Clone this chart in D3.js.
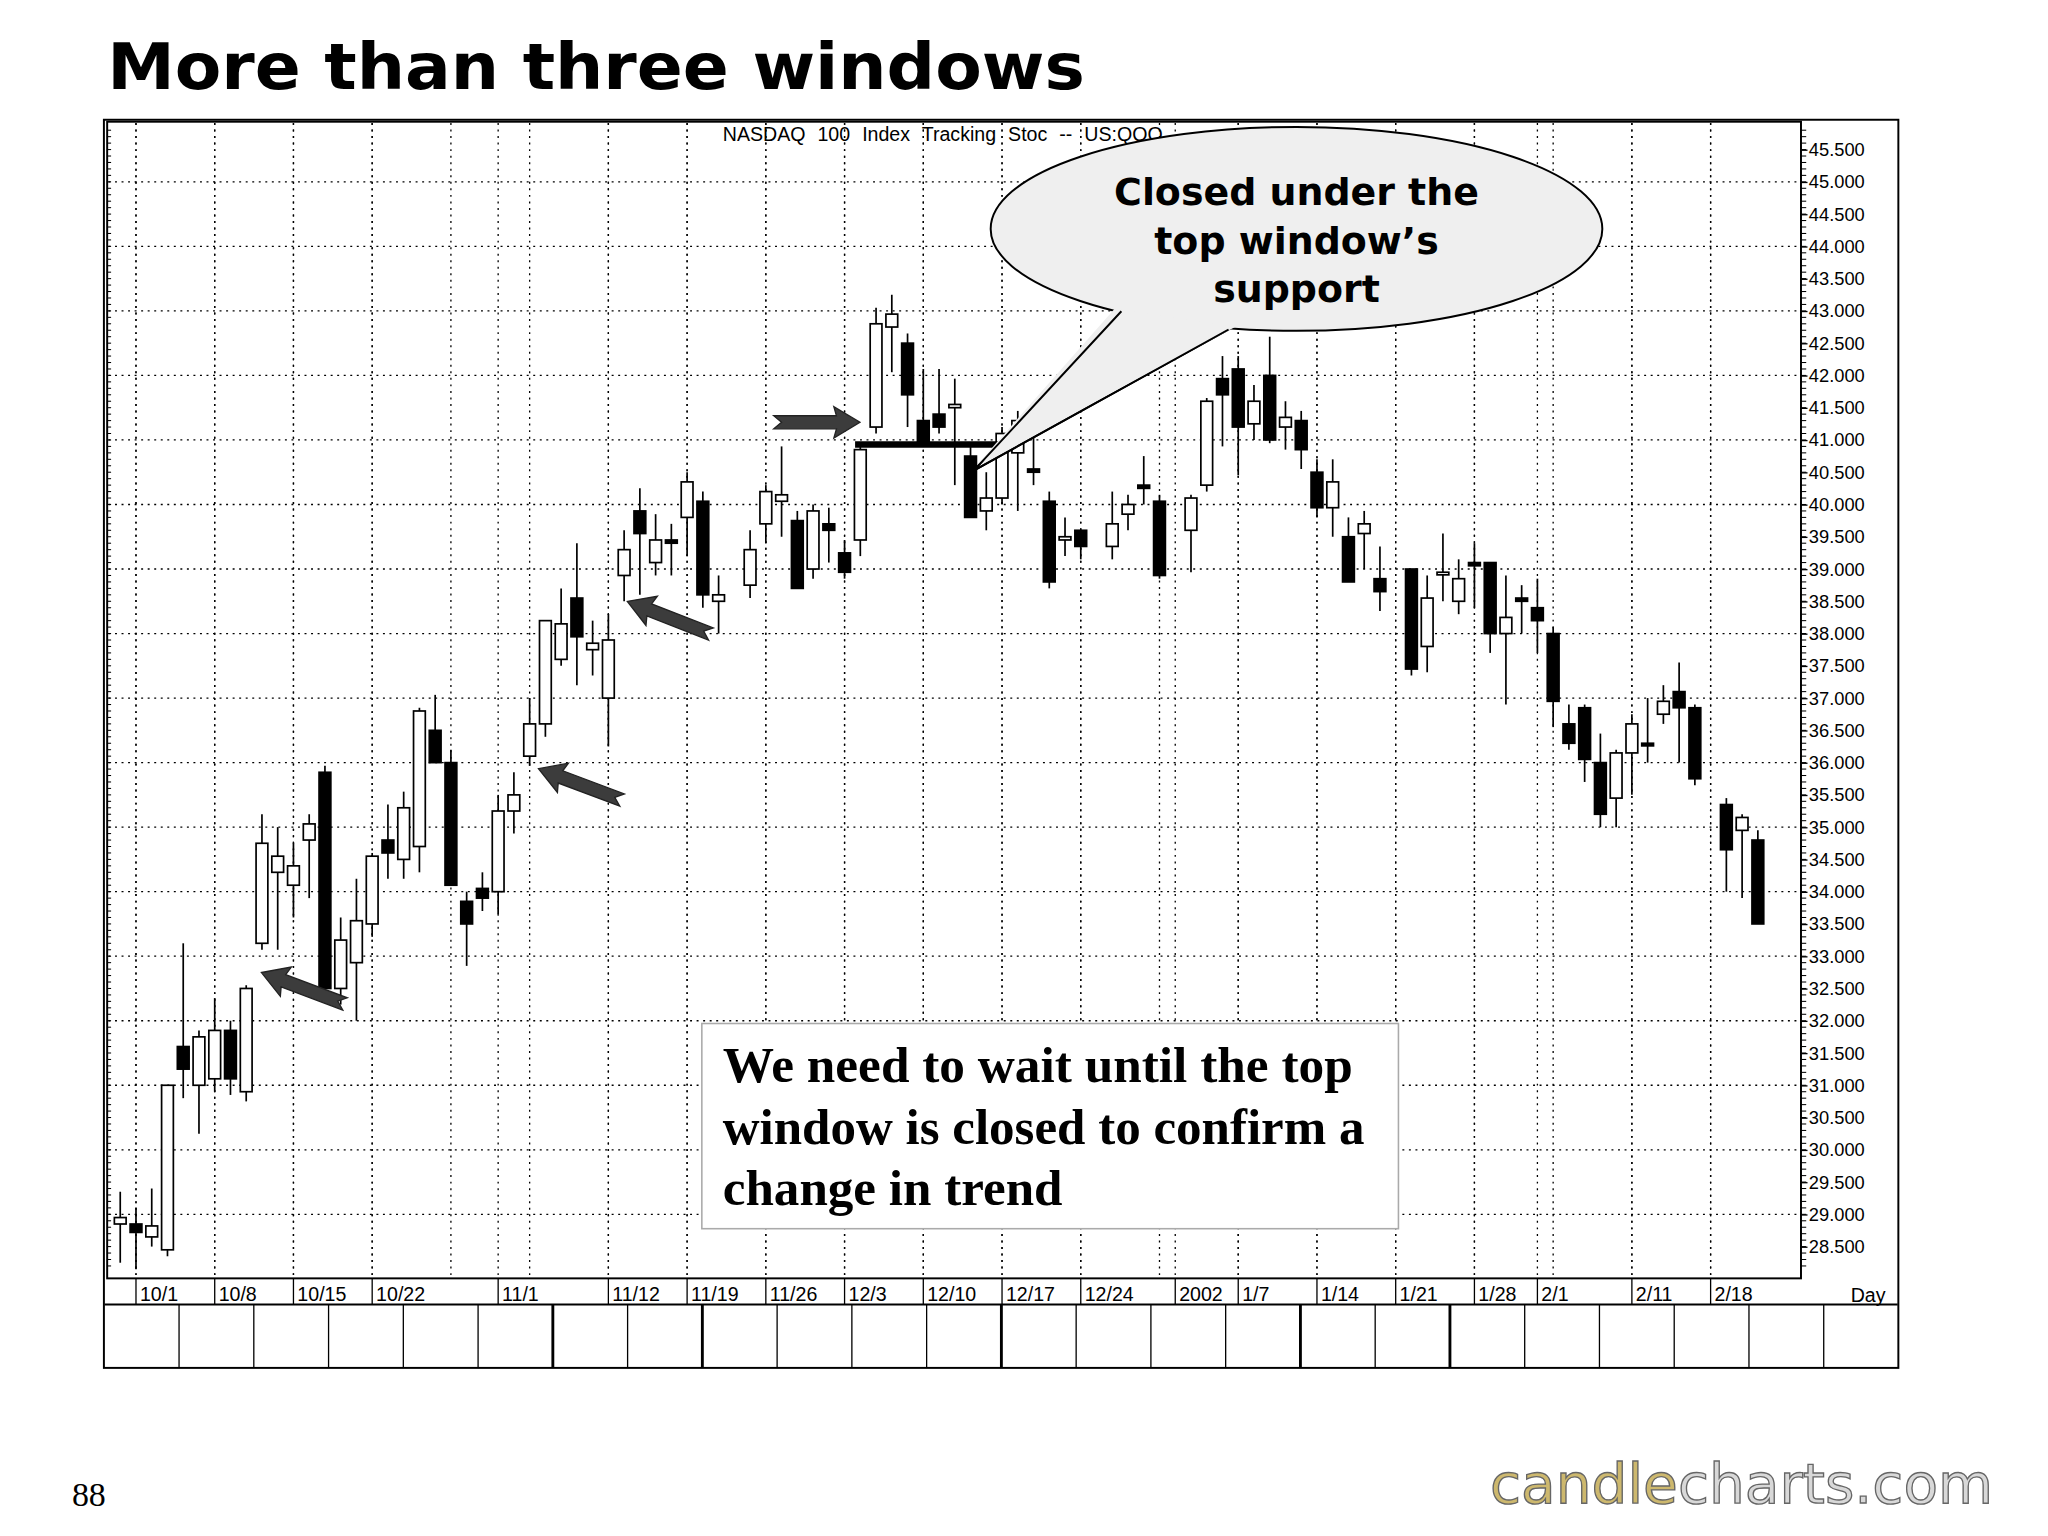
<!DOCTYPE html>
<html><head><meta charset="utf-8">
<script src="https://cdn.jsdelivr.net/npm/d3@7"></script>
<style>body{margin:0;background:#fff}</style>
</head><body>
<script>
// trading days 9/28/2001 .. 2/21/2002, holidays removed
var holidays = ["2001-11-22","2001-12-25","2002-01-01","2002-01-21","2002-02-18"];
var fmt = d3.timeFormat("%Y-%m-%d");
var days = d3.timeDay.range(new Date(2001,8,28), new Date(2002,1,22))
  .filter(function(d){ return d.getDay()>0 && d.getDay()<6; });
var weekdays = days.map(fmt);               // every weekday, for positions
var dates = weekdays.filter(function(d){ return holidays.indexOf(d)<0; });

var opens  = [28.85,28.85,28.65,28.45,31.6,31.0,31.1,31.85,30.9,33.2,34.3,34.1,34.8,35.85,32.5,32.9,33.5,34.8,34.5,34.7,36.5,36.0,33.85,34.05,34.0,35.25,36.1,36.6,37.6,38.55,37.75,37.0,38.9,39.9,39.1,39.45,39.8,40.05,38.5,38.75,39.7,40.05,39.75,39.0,39.7,39.25,39.45,41.2,42.75,42.5,41.3,41.4,41.5,40.75,39.9,40.1,40.8,40.55,40.05,39.45,39.6,39.35,39.85,40.3,40.05,39.6,40.3,41.95,42.1,41.25,42.0,41.2,41.3,40.5,39.95,39.5,39.55,38.85,39.0,37.8,38.95,38.5,39.1,39.1,38.0,38.55,38.4,38.0,36.6,36.85,36.0,35.45,36.15,36.3,36.75,37.1,36.85,35.35,34.95,34.8];
var highs  = [29.35,29.1,29.4,31.0,33.2,31.85,32.35,32.0,32.55,35.2,35.0,34.75,35.2,35.95,33.6,34.2,34.6,35.35,35.55,36.85,37.05,36.2,34.0,34.3,35.5,35.85,37.0,38.2,38.7,39.4,38.2,38.3,39.6,40.25,39.85,39.7,40.5,40.2,38.9,39.6,40.3,40.9,39.9,40.0,39.95,39.45,40.95,43.05,43.25,42.65,42.1,42.1,41.95,40.95,40.5,41.2,41.45,41.05,40.2,39.8,39.6,40.2,40.15,40.75,40.15,40.15,41.65,42.3,42.3,41.85,42.6,41.6,41.45,40.7,40.7,39.8,39.9,39.35,39.0,38.9,39.55,39.15,39.4,39.1,38.9,38.75,38.85,38.1,36.9,36.9,36.45,36.2,36.75,37.0,37.2,37.55,36.9,35.45,35.2,34.95];
var lows   = [28.25,28.15,28.5,28.35,30.8,30.25,30.9,30.85,30.75,33.1,33.1,33.6,33.9,32.3,32.25,32.0,33.3,34.2,34.2,34.3,36.0,34.1,32.85,33.7,33.65,34.9,35.95,36.4,37.5,37.2,37.35,36.25,38.5,38.6,38.9,38.9,39.2,38.4,38.0,38.55,39.4,39.5,38.7,38.85,39.1,38.85,39.2,41.1,42.05,41.2,40.9,41.1,40.3,39.8,39.6,40.0,39.9,40.3,38.7,39.2,39.15,39.15,39.6,40.0,38.85,38.95,40.2,40.9,40.45,41.0,40.95,40.85,40.55,39.8,39.5,38.8,39.0,38.35,37.35,37.4,38.5,38.3,38.4,37.7,36.9,38.0,37.7,36.55,36.2,35.7,35.0,35.0,35.5,36.0,36.6,36.0,35.65,34.0,33.9,33.5];
var closes = [28.95,28.72,28.82,31.0,31.25,31.75,31.85,31.1,32.5,34.75,34.55,34.4,35.05,32.5,33.25,33.55,34.55,34.6,35.3,36.8,36.0,34.1,33.5,33.9,35.25,35.5,36.6,38.2,38.15,37.95,37.85,37.9,39.3,39.55,39.45,39.4,40.35,38.6,38.6,39.3,40.2,40.15,38.7,39.9,39.6,38.95,40.85,42.8,42.95,41.7,40.95,41.2,41.55,39.8,40.1,41.1,41.3,40.5,38.8,39.5,39.35,39.7,40.0,40.25,38.9,40.1,41.6,41.7,41.2,41.6,41.0,41.35,40.85,39.95,40.35,38.8,39.7,38.65,37.45,38.55,38.95,38.85,39.05,38.0,38.25,38.5,38.2,36.95,36.3,36.05,35.2,36.15,36.6,36.28,36.95,36.85,35.75,34.65,35.15,33.5];

var dateLabels = [["2001-10-01","10/1"],["2001-10-08","10/8"],["2001-10-15","10/15"],["2001-10-22","10/22"],["2001-11-01","11/1"],["2001-11-12","11/12"],["2001-11-19","11/19"],["2001-11-26","11/26"],["2001-12-03","12/3"],["2001-12-10","12/10"],["2001-12-17","12/17"],["2001-12-24","12/24"],["2002-01-01","2002"],["2002-01-07","1/7"],["2002-01-14","1/14"],["2002-01-21","1/21"],["2002-01-28","1/28"],["2002-02-01","2/1"],["2002-02-11","2/11"],["2002-02-18","2/18"]];
var priceTicks = d3.range(28.5, 45.51, 0.5);
var bubbleLines = ["Closed under the","top window\u2019s","support"];
var noteLines = ["We need to wait until the top","window is closed to confirm a","change in trend"];
var noteWidths = [482, 491, 260];
var supportLevel = 40.93;

var svg = d3.select("body").append("svg")
  .attr("width",2048).attr("height",1536).attr("viewBox","0 0 1567 1175");

var x = d3.scaleLinear().domain([0, weekdays.length-1]).range([92, 1345]);
var xd = function(s){ return x(weekdays.indexOf(s)); };
var y = d3.scaleLinear().domain([29, 45]).range([929, 139]);

svg.append("text").attr("x",82).attr("y",68).attr("font-family","DejaVu Sans")
  .attr("font-weight","bold").attr("font-size",49).attr("textLength",748)
  .attr("lengthAdjust","spacingAndGlyphs").text("More than three windows");

// frame
svg.append("rect").attr("x",79.5).attr("y",91.5).attr("width",1373).attr("height",955)
  .attr("fill","#fff").attr("stroke","#000").attr("stroke-width",1.5);
var plot = svg.append("g");
plot.append("rect").attr("x",82).attr("y",93).attr("width",1296).attr("height",885)
  .attr("fill","none").attr("stroke","#000").attr("stroke-width",1.5);

// grid
var gridDays = weekdays.filter(function(d){ var t=new Date(d+"T00:00"); return t.getDay()==1; })
  .concat(dateLabels.map(function(d){return d[0];}));
plot.selectAll(".vg").data(gridDays).enter().append("line")
  .attr("x1",function(d){return xd(d);}).attr("x2",function(d){return xd(d);})
  .attr("y1",94).attr("y2",978).attr("stroke","#000").attr("stroke-width",1)
  .attr("stroke-dasharray","1.5,3.5");
plot.selectAll(".hg").data(d3.range(29,45.1,1)).enter().append("line")
  .attr("x1",83).attr("x2",1378).attr("y1",function(d){return y(d);}).attr("y2",function(d){return y(d);})
  .attr("stroke","#000").attr("stroke-width",1).attr("stroke-dasharray","1.5,3.5");

// right price axis
var axisR = d3.axisRight(y).tickValues(priceTicks).tickSize(5)
  .tickFormat(d3.format(".3f"));
var ag = svg.append("g").attr("transform","translate(1378,0)").call(axisR);
ag.select(".domain").remove();
ag.selectAll("text").attr("font-family","Liberation Sans Narrow, Liberation Sans").attr("font-size",14).attr("dx",-2);
svg.append("g").selectAll("line").data(d3.range(28.2,45.9,0.1)).enter().append("line")
  .attr("x1",1378).attr("x2",1382).attr("y1",function(d){return y(d);}).attr("y2",function(d){return y(d);})
  .attr("stroke","#000").attr("stroke-width",0.8);
svg.append("g").selectAll("line").data(d3.range(28.2,45.9,0.1)).enter().append("line")
  .attr("x1",82).attr("x2",85).attr("y1",function(d){return y(d);}).attr("y2",function(d){return y(d);})
  .attr("stroke","#000").attr("stroke-width",0.8);

svg.append("text").attr("x",553).attr("y",108).attr("font-family","Liberation Sans Narrow, Liberation Sans")
  .attr("font-size",15).attr("word-spacing",5).text("NASDAQ 100 Index Tracking Stoc -- US:QQQ");

// date axis row
var dg = svg.append("g");
dg.append("line").attr("x1",80).attr("x2",1452).attr("y1",998).attr("y2",998).attr("stroke","#000").attr("stroke-width",1.5);
dg.selectAll("line.t").data(dateLabels).enter().append("line")
  .attr("x1",function(d){return xd(d[0]);}).attr("x2",function(d){return xd(d[0]);})
  .attr("y1",978).attr("y2",998).attr("stroke","#000");
dg.selectAll("text").data(dateLabels).enter().append("text")
  .attr("x",function(d){return xd(d[0])+3;}).attr("y",995)
  .attr("font-family","Liberation Sans Narrow, Liberation Sans").attr("font-size",15).text(function(d){return d[1];});
dg.append("text").attr("x",1416).attr("y",996).attr("font-family","Liberation Sans Narrow, Liberation Sans").attr("font-size",15).text("Day");
// lower panel cells
var cells = d3.range(0,23);
var thick = [5,7,11,15,17];
dg.selectAll("line.c").data(cells).enter().append("line")
  .attr("x1",function(i){return 137+57.2*i;}).attr("x2",function(i){return 137+57.2*i;})
  .attr("y1",998).attr("y2",1046).attr("stroke","#000")
  .attr("stroke-width",function(i){return thick.indexOf(i)>=0?2.2:1;});

// candles
var data = dates.map(function(d,i){ return {d:d,o:opens[i],h:highs[i],l:lows[i],c:closes[i]}; });
var cg = plot.append("g");
var c = cg.selectAll("g").data(data).enter().append("g");
c.append("line").attr("x1",function(d){return xd(d.d);}).attr("x2",function(d){return xd(d.d);})
  .attr("y1",function(d){return y(d.h);}).attr("y2",function(d){return y(d.l);})
  .attr("stroke","#000").attr("stroke-width",1.3);
c.append("rect").attr("x",function(d){return xd(d.d)-4.5;}).attr("width",9)
  .attr("y",function(d){return y(Math.max(d.o,d.c));})
  .attr("height",function(d){return Math.max(2,Math.abs(y(d.o)-y(d.c)));})
  .attr("fill",function(d){return d.c>=d.o?"#fff":"#000";}).attr("stroke","#000").attr("stroke-width",1.3);

// support line
plot.append("line").attr("x1",xd("2001-12-04")-4).attr("x2",xd("2001-12-18")-8)
  .attr("y1",y(supportLevel)).attr("y2",y(supportLevel)).attr("stroke","#000").attr("stroke-width",5);

// block arrows
function arrow(tx,ty,fx,fy){
  var a=Math.atan2(ty-fy,tx-fx), L=Math.hypot(tx-fx,ty-fy);
  var p=[[0,-5],[L-18,-5],[L-20,-12],[L,0],[L-20,12],[L-18,5],[0,5],[6,0]];
  svg.append("path").attr("d","M"+p.map(function(q){return q.join(",");}).join("L")+"Z")
    .attr("transform","translate("+fx+","+fy+") rotate("+(a*180/Math.PI)+")")
    .attr("fill","#3c3c3c").attr("stroke","#222").attr("stroke-width",1);
}
arrow(200,744,264,768);
arrow(412,588,476,612);
arrow(480,460,544,485);
arrow(658,323,592,323);

// speech bubble
svg.append("path").attr("d","M858,238 L745,360 L940,252 Z").attr("fill","#efefef").attr("stroke","#000").attr("stroke-width",1.5);
svg.append("ellipse").attr("cx",992).attr("cy",175).attr("rx",234).attr("ry",78)
  .attr("fill","#efefef").attr("stroke","#000").attr("stroke-width",1.5);
svg.append("path").attr("d","M853,236 L748,355 L945,250").attr("fill","#efefef").attr("stroke","none");
svg.append("path").attr("d","M858,238 L745,360 L940,252").attr("fill","none").attr("stroke","#000").attr("stroke-width",1.5);
svg.selectAll("text.b").data(bubbleLines).enter().append("text")
  .attr("x",992).attr("y",function(d,i){return 157+i*37;}).attr("text-anchor","middle")
  .attr("font-family","DejaVu Sans").attr("font-weight","bold").attr("font-size",29).text(function(d){return d;});

// note box
svg.append("rect").attr("x",537).attr("y",783).attr("width",533).attr("height",157)
  .attr("fill","#fff").attr("stroke","#aaa").attr("stroke-width",1.2);
svg.selectAll("text.n").data(noteLines).enter().append("text")
  .attr("x",553).attr("y",function(d,i){return 828+i*47;})
  .attr("textLength",function(d,i){return noteWidths[i];}).attr("lengthAdjust","spacingAndGlyphs")
  .attr("font-family","Liberation Serif").attr("font-weight","bold").attr("font-size",38).text(function(d){return d;});

svg.append("text").attr("x",55).attr("y",1152).attr("font-family","Liberation Serif").attr("font-size",26).text("88");
svg.append("text").attr("x",1140).attr("y",1150).attr("font-family","DejaVu Sans").attr("font-size",42)
  .attr("textLength",385).attr("lengthAdjust","spacingAndGlyphs")
  .attr("fill","#cdb86e").attr("stroke","#666").attr("stroke-width",1).text("candle")
  .append("tspan").text("charts.com").attr("fill","#d8d8d8");
</script>
</body></html>
